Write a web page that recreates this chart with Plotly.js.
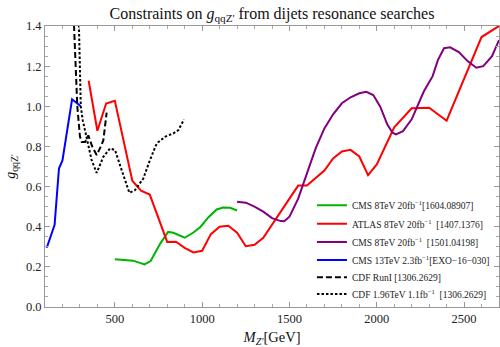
<!DOCTYPE html>
<html>
<head>
<meta charset="utf-8">
<script src="https://cdn.plot.ly/plotly-3.0.1.min.js"></script>
<style>html,body{margin:0;padding:0;background:#fff;}#chart{width:500px;height:347px;}</style>
</head>
<body>
<div id="chart"></div>
<script>
// CMS 8TeV 20fb-1 [1604.08907]
const cms1604_x = [500, 605, 670, 705, 760, 805, 835, 900, 950, 990, 1035, 1083, 1120, 1160, 1200];
const cms1604_y = [0.238, 0.231, 0.212, 0.229, 0.316, 0.374, 0.370, 0.345, 0.371, 0.399, 0.446, 0.486, 0.496, 0.494, 0.481];
// ATLAS 8TeV 20fb-1 [1407.1376]
const atlas_x = [350, 400, 450, 500, 600, 650, 700, 800, 850, 900, 950, 1000, 1050, 1100, 1150, 1200, 1250, 1300, 1350, 1550, 1600, 1700, 1750, 1800, 1850, 1900, 1950, 2000, 2100, 2200, 2300, 2400, 2600, 2700];
const atlas_y = [1.127, 0.878, 1.014, 1.027, 0.629, 0.580, 0.560, 0.324, 0.325, 0.295, 0.272, 0.280, 0.363, 0.400, 0.405, 0.370, 0.303, 0.310, 0.345, 0.605, 0.605, 0.680, 0.740, 0.775, 0.783, 0.750, 0.657, 0.710, 0.895, 0.990, 0.993, 0.928, 1.345, 1.400];
// CMS 8TeV 20fb-1 [1501.04198]
const cms1501_x = [1200, 1250, 1300, 1350, 1400, 1450, 1470, 1500, 1550, 1600, 1650, 1700, 1750, 1800, 1850, 1900, 1940, 1980, 2020, 2060, 2090, 2110, 2150, 2200, 2250, 2270, 2320, 2350, 2385, 2420, 2470, 2520, 2570, 2610, 2660, 2700];
const cms1501_y = [0.524, 0.520, 0.500, 0.475, 0.443, 0.428, 0.427, 0.450, 0.540, 0.660, 0.790, 0.890, 0.960, 1.015, 1.045, 1.065, 1.072, 1.056, 0.998, 0.910, 0.868, 0.860, 0.876, 0.935, 1.030, 1.075, 1.150, 1.230, 1.289, 1.294, 1.270, 1.225, 1.192, 1.200, 1.250, 1.330];
// CMS 13TeV 2.3fb-1 [EXO-16-030]
const cms13_x = [105, 112, 155, 180, 200, 255, 305];
const cms13_y = [0.300, 0.300, 0.410, 0.690, 0.730, 1.035, 1.000];
// CDF RunI [1306.2629]
const cdf1_x = [264, 276, 285, 300, 310, 330, 348, 370, 396, 420, 434, 453];
const cdf1_y = [1.450, 1.200, 1.000, 0.850, 0.822, 0.822, 0.855, 0.800, 0.757, 0.800, 0.830, 0.968];
// CDF 1.96TeV 1.1fb-1 [1306.2629]
const cdf2_x = [293, 300, 305, 316, 339, 367, 396, 434, 472, 501, 539, 583, 615, 663, 701, 740, 787, 835, 864, 896];
const cdf2_y = [1.450, 1.200, 1.000, 0.931, 0.848, 0.732, 0.668, 0.748, 0.790, 0.782, 0.682, 0.569, 0.582, 0.640, 0.732, 0.815, 0.848, 0.865, 0.881, 0.934];

const names = [
  "CMS 8TeV 20fb<sup>\u22121</sup>[1604.08907]",
  "ATLAS 8TeV 20fb<sup>\u22121</sup>  [1407.1376]",
  "CMS 8TeV 20fb<sup>\u22121</sup>  [1501.04198]",
  "CMS 13TeV 2.3fb<sup>\u22121</sup>[EXO\u221216\u2212030]",
  "CDF RunI [1306.2629]",
  "CDF 1.96TeV 1.1fb<sup>\u22121</sup>  [1306.2629]"
];

const serif = "Liberation Serif, Times New Roman, serif";
const legendIds = ['legend', 'legend2', 'legend3', 'legend4', 'legend5', 'legend6'];
function tr(i, x, y, color, dash) {
  return {x: x, y: y, name: names[i], type: 'scatter', mode: 'lines', legend: legendIds[i],
    line: {color: color, width: 2, dash: dash || 'solid'}};
}
const data = [
  tr(0, cms1604_x, cms1604_y, '#00b400'),
  tr(1, atlas_x, atlas_y, '#ff0000'),
  tr(2, cms1501_x, cms1501_y, '#800080'),
  tr(3, cms13_x, cms13_y, '#0000ff'),
  tr(4, cdf1_x, cdf1_y, '#000000', '6px,3px'),
  tr(5, cdf2_x, cdf2_y, '#000000', '2.5px,2px')
];

const axisCommon = {
  showgrid: false, zeroline: false, showline: true, linecolor: '#999', linewidth: 1,
  mirror: 'allticks', ticks: 'inside', ticklen: 5, tickcolor: '#999', tickwidth: 1,
  tickfont: {family: serif, size: 12.5, color: '#222'}
};

const layout = {
  width: 500, height: 347,
  margin: {l: 45, r: 1, t: 26, b: 40},
  paper_bgcolor: '#fff', plot_bgcolor: '#fff',
  font: {family: serif, color: '#222'},
  title: {text: "Constraints on <i>g</i><sub>qqZ'</sub> from dijets resonance searches",
    font: {family: serif, size: 16, color: '#111'}, x: 0.544, xanchor: 'center', y: 0.962, yanchor: 'middle'},
  xaxis: Object.assign({}, axisCommon, {
    range: [100, 2700], tickvals: [500, 1000, 1500, 2000, 2500],
    minor: {dtick: 100, tick0: 0, ticks: 'inside', ticklen: 3, tickcolor: '#aaa'},
    title: {text: "<i>M</i><sub><i>Z'</i></sub>[GeV]", font: {family: serif, size: 14.5, color: '#111'}, standoff: 8}
  }),
  yaxis: Object.assign({}, axisCommon, {
    range: [0, 1.4], dtick: 0.2, tick0: 0, tickformat: '.1f',
    minor: {dtick: 0.05, tick0: 0, ticks: 'inside', ticklen: 3, tickcolor: '#aaa'},
    title: {text: "<i>g</i><sub>qqZ'</sub>", font: {family: serif, size: 14, color: '#111'}, standoff: 6}
  }),
  showlegend: true
};
const legendY = [0.362, 0.296, 0.231, 0.167, 0.106, 0.046];
legendIds.forEach(function (id, i) {
  layout[id] = {x: 0.588, xanchor: 'left', y: legendY[i], yanchor: 'middle', bgcolor: 'rgba(0,0,0,0)',
    font: {family: serif, size: 9.5, color: '#222'}};
});

Plotly.newPlot('chart', data, layout, {displayModeBar: false, staticPlot: true});
</script>
</body>
</html>
